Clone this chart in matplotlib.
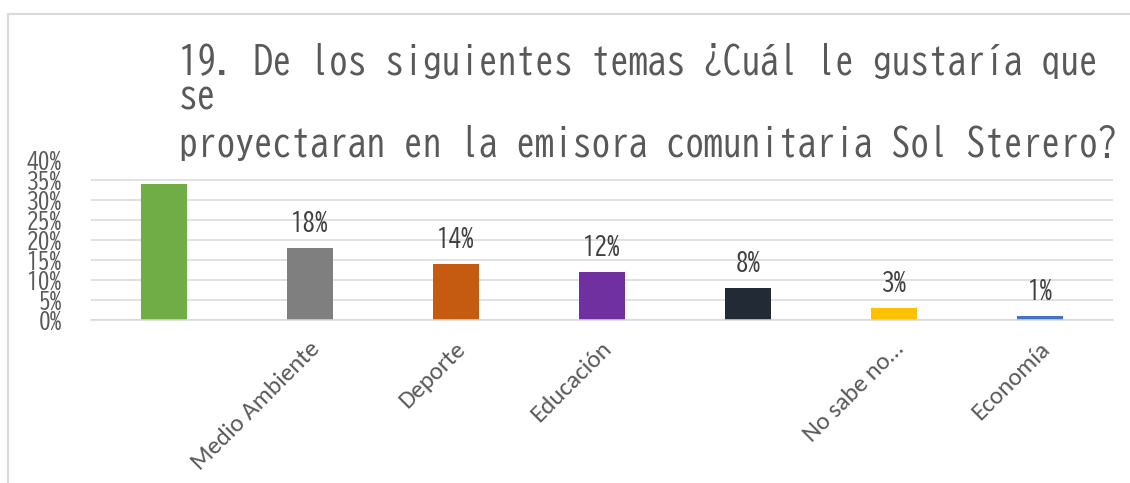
import matplotlib
matplotlib.use("Agg")
import matplotlib.pyplot as plt
from matplotlib.lines import Line2D
from matplotlib import font_manager

# ---- data ----
categories = ["", "Medio Ambiente", "Deporte", "Educación", "", "No sabe no…", "Economía"]
values = [34, 18, 14, 12, 8, 3, 1]
value_labels = [None, "18%", "14%", "12%", "8%", "3%", "1%"]
bar_colors = ["#70AD47", "#7F7F7F", "#C55A11", "#7030A0", "#222A35", "#FFC000", "#4472C4"]
y_ticks = [0, 5, 10, 15, 20, 25, 30, 35, 40]
y_tick_labels = ["0%", "5%", "10%", "15%", "20%", "25%", "30%", "35%", "40%"]
title_lines = ["19. De los siguientes temas ¿Cuál le gustaría que",
               "se",
               "proyectaran en la emisora comunitaria Sol Sterero?"]

names = {f.name for f in font_manager.fontManager.ttflist}


def pick(prefs):
    for p in prefs:
        if p in names:
            return p
    return prefs[-1]


gothic = pick(["BIZ UDGothic", "Kosugi", "M PLUS 1 Code", "DejaVu Sans Mono"])
gothic_fam = [gothic, "DejaVu Sans Mono"]
calibri = pick(["Carlito", "Open Sans"])
scale = 1.0 if gothic == "DejaVu Sans Mono" else 1.2

W, H = 1130, 483
fig = plt.figure(figsize=(W / 100, H / 100), dpi=100)
fig.patch.set_facecolor("white")

ax = fig.add_axes([91 / W, 1 - 320 / H, (1113 - 91) / W, 160 / H])
x = list(range(len(categories)))
ax.bar(x, values, width=0.315, color=bar_colors, zorder=3)
ax.set_xlim(-0.5, len(categories) - 0.5)
ax.set_ylim(0, 40)

ax.set_yticks(y_ticks)
ax.set_yticklabels(y_tick_labels, fontsize=14 * scale, family=gothic_fam, color="#595959")
ax.tick_params(axis="y", length=0, pad=21)
ax.yaxis.grid(True, color="#D9D9D9", linewidth=1.1, zorder=0)
ax.get_ygridlines()[-1].set_visible(False)

ax.set_xticks(x)
ax.set_xticklabels([""] * len(categories))
ax.tick_params(axis="x", length=0)
for xi, cat in zip(x, categories):
    if not cat:
        continue
    ax.annotate(cat, (xi, 0), xytext=(-1, -13), textcoords="offset points",
                rotation=45, rotation_mode="anchor", ha="right", va="top",
                fontsize=15.5 if calibri == "Open Sans" else 18,
                family=calibri, color="#595959")

for s in ["top", "right", "left"]:
    ax.spines[s].set_visible(False)
ax.spines["bottom"].set_color("#D9D9D9")
ax.spines["bottom"].set_linewidth(1.1)
ax.spines["bottom"].set_zorder(4)

for xi, v, lab in zip(x, values, value_labels):
    if lab is None:
        continue
    ax.annotate(lab, (xi, v), xytext=(0, 12), textcoords="offset points",
                ha="center", va="baseline", fontsize=15 * scale,
                family=gothic_fam, color="#404040")

# title (three lines as in the reference)
baselines = [74, 108, 156]
for line, yb in zip(title_lines, baselines):
    fig.text(179 / W, 1 - yb / H, line, ha="left", va="baseline",
             fontsize=22.5 * scale, family=gothic_fam, color="#595959")

# chart frame
fig.add_artist(Line2D([8 / W, 1], [1 - 14 / H, 1 - 14 / H], transform=fig.transFigure,
                      color="#D9D9D9", linewidth=1.5))
fig.add_artist(Line2D([8 / W, 8 / W], [0, 1 - 14 / H], transform=fig.transFigure,
                      color="#D9D9D9", linewidth=1.5))

fig.savefig("out.png", dpi=100)
